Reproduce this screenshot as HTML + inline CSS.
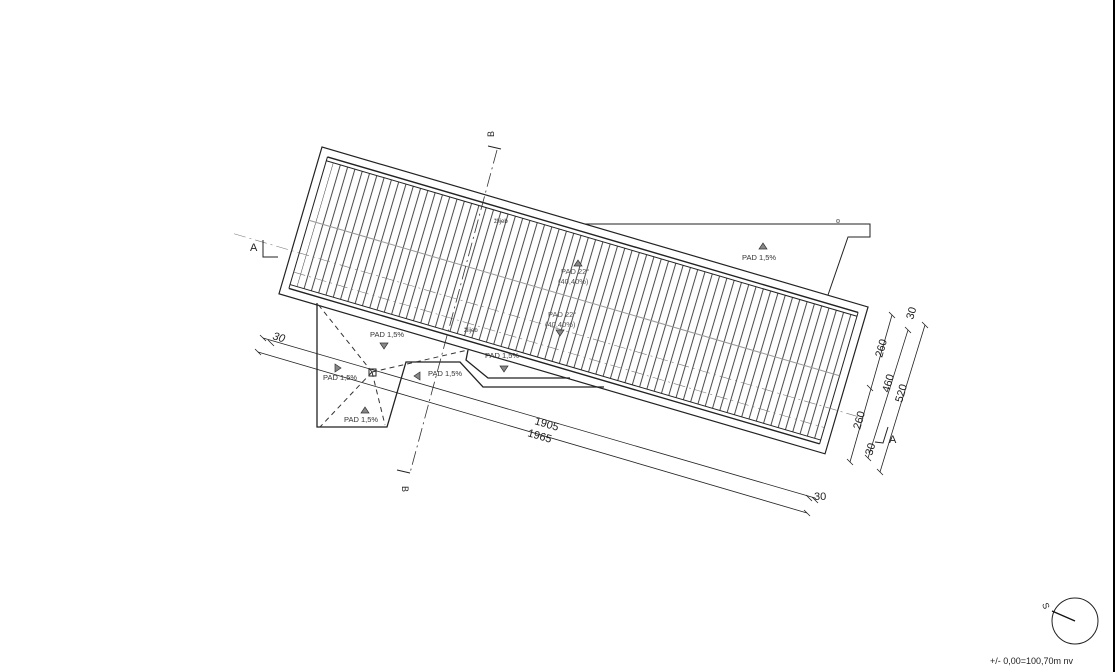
<!DOCTYPE html>
<html><head><meta charset="utf-8"><style>
html,body{margin:0;padding:0;background:#fff;}
svg{display:block;font-family:"Liberation Sans",sans-serif;}
</style></head><body>
<svg width="1115" height="672" viewBox="0 0 1115 672" xmlns="http://www.w3.org/2000/svg">
<defs>
  <pattern id="p" patternUnits="userSpaceOnUse" x="14" y="0" width="7.6" height="300">
    <rect x="0.6" y="0" width="0.9" height="300" fill="#333"/>
  </pattern>
</defs>
<rect x="0" y="0" width="1115" height="672" fill="#fff"/>
<rect x="1113" y="0" width="2" height="672" fill="#000"/>

<g transform="translate(322,147) rotate(16.33)" stroke="#222" fill="none">
  <rect x="15" y="12" width="541" height="129" fill="url(#p)" stroke="none"/>
  <rect x="0" y="0" width="569" height="153" stroke-width="1.2"/>
  <line x1="8" y1="8" x2="8" y2="145" stroke-width="1"/>
  <line x1="561" y1="8" x2="561" y2="145" stroke-width="1"/>
  <line x1="8" y1="8" x2="561" y2="8" stroke-width="1.4"/>
  <line x1="8" y1="12" x2="561" y2="12" stroke-width="1"/>
  <line x1="8" y1="141" x2="561" y2="141" stroke-width="1"/>
  <line x1="8" y1="145" x2="561" y2="145" stroke-width="1.4"/>
  <line x1="8" y1="74" x2="561" y2="74" stroke="#999" stroke-width="1"/>
  <line x1="-60" y1="108" x2="600" y2="108" stroke="#777" stroke-width="0.6" stroke-dasharray="12,4,2,4"/>
  <line x1="8" y1="128" x2="561" y2="128" stroke="#777" stroke-width="0.6" stroke-dasharray="12,4,2,4"/>
</g>

<g stroke="#222" fill="none" stroke-width="1">
  <polyline points="585,224 870,224 870,237 848,237 828,295"/>
  <circle cx="838" cy="221" r="1.5" stroke="#888"/>
  <polyline points="317,303 317,427 387,427 406,362 460,362 483,387 604,387" stroke-width="1.3"/>
  <polyline points="468,350 466,360 488,378 570,378" stroke-width="1.3"/>
  <rect x="369" y="369" width="7" height="7"/>
  <g stroke-dasharray="5,4" stroke="#333">
    <line x1="372" y1="372" x2="317" y2="303"/>
    <line x1="372" y1="372" x2="320" y2="427"/>
    <line x1="372" y1="372" x2="385" y2="425"/>
    <line x1="372" y1="372" x2="468" y2="350"/>
  </g>
  <line x1="497" y1="150" x2="410" y2="473" stroke="#333" stroke-width="0.8" stroke-dasharray="14,4,2,4"/>
  <polyline points="488,146 501,149"/>
  <polyline points="397,470 410,473"/>
  <polyline points="263,240 263,257 278,257"/>
  <polyline points="888,427 883,443 875,442"/>
  <line x1="263" y1="338" x2="815" y2="498" stroke-width="0.8"/>
  <line x1="258" y1="352" x2="807" y2="513" stroke-width="0.8"/>
  <line x1="892" y1="315" x2="850" y2="462" stroke-width="0.8"/>
  <line x1="908" y1="330" x2="868" y2="458" stroke-width="0.8"/>
  <line x1="925" y1="325" x2="880" y2="472" stroke-width="0.8"/>
</g>
<g stroke="#222" stroke-width="0.8">
  <line x1="260" y1="335" x2="266" y2="341"/><line x1="268" y1="340" x2="274" y2="346"/>
  <line x1="255" y1="349" x2="261" y2="355"/><line x1="804" y1="510" x2="810" y2="516"/>
  <line x1="806" y1="495" x2="812" y2="501"/><line x1="812" y1="497" x2="818" y2="503"/>
  <line x1="889" y1="312" x2="895" y2="318"/><line x1="867" y1="385" x2="873" y2="391"/>
  <line x1="847" y1="459" x2="853" y2="465"/><line x1="905" y1="327" x2="911" y2="333"/>
  <line x1="865" y1="455" x2="871" y2="461"/><line x1="922" y1="322" x2="928" y2="328"/>
  <line x1="877" y1="469" x2="883" y2="475"/>
</g>

<g fill="#888" stroke="#333" stroke-width="0.7">
  <polygon points="759,249 767,249 763,243"/>
  <polygon points="574,266 582,266 578,260"/>
  <polygon points="556,330 564,330 560,336"/>
  <polygon points="380,343 388,343 384,349"/>
  <polygon points="335,364 335,372 341,368"/>
  <polygon points="361,413 369,413 365,407"/>
  <polygon points="420,372 420,380 414,376"/>
  <polygon points="500,366 508,366 504,372"/>
</g>

<g font-size="7.5" fill="#333">
  <text x="742" y="260">PAD 1,5%</text>
  <g fill="#555">
  <text x="561" y="274">PAD 22°</text>
  <text x="558" y="284">(40,40%)</text>
  <text x="548" y="317">PAD 22°</text>
  <text x="545" y="327">(40,40%)</text>
  </g>
  <text x="370" y="337">PAD 1,5%</text>
  <text x="323" y="380">PAD 1,5%</text>
  <text x="344" y="422">PAD 1,5%</text>
  <text x="428" y="376">PAD 1,5%</text>
  <text x="485" y="358">PAD 1,5%</text>
  <text x="494" y="223" font-size="6">žlijeb</text>
  <text x="464" y="332" font-size="6">žlijeb</text>
</g>

<g font-size="11" fill="#222">
  <text x="250" y="251">A</text>
  <text x="889" y="443">A</text>
  <text transform="translate(494,137) rotate(-90)" font-size="9">B</text>
  <text transform="translate(402,486) rotate(90)" font-size="9">B</text>
  <text transform="translate(272,339) rotate(16.33)" font-style="italic">30</text>
  <text transform="translate(534,424) rotate(16.33)">1905</text>
  <text transform="translate(527,436) rotate(16.33)">1965</text>
  <text transform="translate(814,500)">30</text>
  <text transform="translate(913,320) rotate(-73.7)">30</text>
  <text transform="translate(882,358) rotate(-73.7)">260</text>
  <text transform="translate(889,393) rotate(-73.7)">460</text>
  <text transform="translate(902,403) rotate(-73.7)">520</text>
  <text transform="translate(860,430) rotate(-73.7)">260</text>
  <text transform="translate(872,456) rotate(-73.7)">30</text>
</g>

<circle cx="1075" cy="621" r="23" fill="none" stroke="#222" stroke-width="1"/>
<line x1="1075" y1="621" x2="1052" y2="611" stroke="#111" stroke-width="1.3"/>
<text transform="translate(1042,604) rotate(70)" font-size="9" fill="#222">S</text>
<text x="990" y="664" font-size="9" fill="#222">+/- 0,00=100,70m nv</text>
</svg>
</body></html>
